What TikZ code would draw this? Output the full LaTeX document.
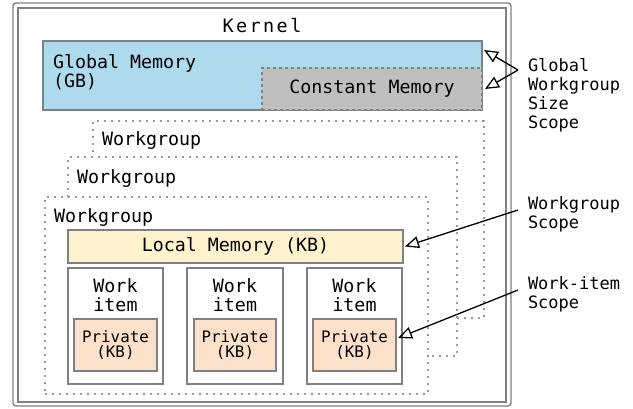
\documentclass[tikz,border=0pt]{standalone}
\usepackage{fontspec}
\setmonofont{DejaVu Sans Mono}
\newfontfamily\kernelfont[LetterSpace=13]{DejaVu Sans Mono}
\usetikzlibrary{arrows.meta}
\definecolor{globalblue}{HTML}{ADDAED}
\definecolor{constgray}{HTML}{BFBFBF}
\definecolor{localyellow}{HTML}{FFF2CC}
\definecolor{privorange}{HTML}{FBE1C9}
\definecolor{edgegray}{HTML}{808080}
\definecolor{dotgray}{HTML}{999999}
\begin{document}
\begin{tikzpicture}[x=1pt,y=-1pt,
  font=\ttfamily\fontsize{18.3}{19}\selectfont,
  every node/.style={inner sep=0pt, outer sep=0pt},
  membox/.style={draw=edgegray, line width=1.4pt, anchor=north west},
  wgbox/.style={draw=dotgray, fill=white, line width=1.3pt,
    dash pattern=on 2pt off 5pt, anchor=north west},
  label/.style={anchor=north west, align=left},
  scopelabel/.style={anchor=north west, align=left,
    font=\ttfamily\fontsize{17}{19}\selectfont},
  scopearrow/.style={draw=black, line width=1.3pt,
    -{Triangle[open, length=14pt, width=12pt, line width=1.3pt]}},
  privfont/.style={font=\ttfamily\fontsize{15.8}{15.5}\selectfont}
]
\useasboundingbox (0,0) rectangle (633,408);

% kernel frame (double line)
\draw[edgegray, line width=1.4pt, rounded corners=3pt] (13,3) rectangle (511,406);
\draw[edgegray, line width=1.4pt] (18,8) rectangle (506,402);
\node[font=\kernelfont\fontsize{18.5}{20}\selectfont, anchor=base] (kernel) at (262,32.7) {Kernel};

% global and constant memory
\node[membox, fill=globalblue, minimum width=439pt, minimum height=69pt] (glob) at (43,41) {};
\node[label] (globtxt) at (53,54) {Global Memory\\(GB)};
\node[membox, draw=gray, fill=constgray, dash pattern=on 3pt off 3pt,
      minimum width=220pt, minimum height=42pt] (const) at (262,68) {Constant Memory};

% stacked workgroups
\node[wgbox, minimum width=391pt, minimum height=197pt] (wg3) at (93,121) {};
\node[anchor=base west] (wg3txt) at (102,145) {Workgroup};
\node[wgbox, minimum width=389pt, minimum height=199pt] (wg2) at (68,157) {};
\node[anchor=base west] (wg2txt) at (77,183) {Workgroup};
\node[wgbox, minimum width=383pt, minimum height=197pt] (wg1) at (45,197) {};
\node[anchor=base west] (wg1txt) at (54,222) {Workgroup};

% local memory
\node[membox, fill=localyellow, minimum width=335pt, minimum height=33pt] (local) at (68,230) {Local Memory (KB)};

% work items with private memory
\node[membox, fill=white, minimum width=95pt, minimum height=116pt] (wi1) at (68,268) {};
\node[membox, fill=white, minimum width=96pt, minimum height=116pt] (wi2) at (187,268) {};
\node[membox, fill=white, minimum width=95pt, minimum height=116pt] (wi3) at (307,268) {};
\foreach \w in {wi1,wi2,wi3}
  \node[anchor=north, align=center] (\w txt) at ([yshift=-10.3pt]\w.north) {Work\\item};
\node[membox, fill=privorange, privfont, align=center, minimum width=83pt, minimum height=52pt] (p1) at (74,319) {Private\\(KB)};
\node[membox, fill=privorange, privfont, align=center, minimum width=82pt, minimum height=52pt] (p2) at (194,319) {Private\\(KB)};
\node[membox, fill=privorange, privfont, align=center, minimum width=83pt, minimum height=52pt] (p3) at (313,319) {Private\\(KB)};

% scope labels
\node[scopelabel] (gscope) at (528,58.8) {Global\\Workgroup\\Size\\Scope};
\node[scopelabel] (wgscope) at (528,197) {Workgroup\\Scope};
\node[scopelabel] (wiscope) at (528,277) {Work-item\\Scope};

% scope arrows
\coordinate (gsrc) at (518,70);
\coordinate (wgsrc) at (518,210);
\coordinate (wisrc) at (518,290);
\draw[scopearrow] (gsrc) -- ([shift={(2pt,-9pt)}]glob.north east);
\draw[scopearrow] (gsrc) -- ([xshift=3pt]const.east);
\draw[scopearrow] (wgsrc) -- ([xshift=2pt]local.east);
\draw[scopearrow] (wisrc) -- ([shift={(2pt,7pt)}]p3.east);
\end{tikzpicture}
\end{document}
